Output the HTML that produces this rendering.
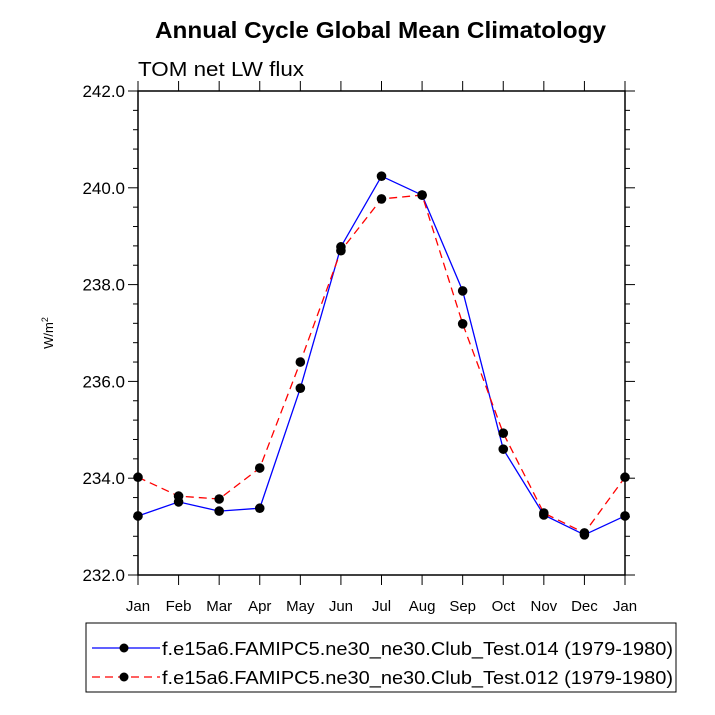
<!DOCTYPE html>
<html><head><meta charset="utf-8"><style>
html,body{margin:0;padding:0;background:#fff;}
svg{display:block;font-family:"Liberation Sans",sans-serif;}
</style></head><body>
<svg id="chart" width="715" height="715" viewBox="0 0 715 715">
<text x="155" y="38" textLength="451" lengthAdjust="spacingAndGlyphs" font-size="23" font-weight="bold">Annual Cycle Global Mean Climatology</text>
<text x="138" y="76" textLength="166" lengthAdjust="spacingAndGlyphs" font-size="20">TOM net LW flux</text>
<text transform="translate(53,333) rotate(-90)" text-anchor="middle" font-size="13">W/m<tspan font-size="9" dy="-5">2</tspan></text>
<g id="axes"></g>
<g id="series"></g>
<rect x="86" y="623" width="590" height="69" fill="none" stroke="#000" stroke-width="1"/>
<g>
<line x1="92" y1="648" x2="160" y2="648" stroke="#0000ff" stroke-width="1.3"/>
<circle cx="124" cy="648" r="4.5" fill="#000"/>
<text x="162" y="655" textLength="511" lengthAdjust="spacingAndGlyphs" font-size="18">f.e15a6.FAMIPC5.ne30_ne30.Club_Test.014 (1979-1980)</text>
</g>
<g>
<line x1="92" y1="677" x2="160" y2="677" stroke="#ff0000" stroke-width="1.3" stroke-dasharray="8,5"/>
<circle cx="124" cy="677" r="4.5" fill="#000"/>
<text x="162" y="684" textLength="511" lengthAdjust="spacingAndGlyphs" font-size="18">f.e15a6.FAMIPC5.ne30_ne30.Club_Test.012 (1979-1980)</text>
</g>
</svg>
<script>
const months = ["Jan","Feb","Mar","Apr","May","Jun","Jul","Aug","Sep","Oct","Nov","Dec","Jan"];
const test014 = [233.22,233.51,233.32,233.38,235.86,238.78,240.24,239.85,237.87,234.60,233.24,232.83,233.22];
const test012 = [234.02,233.63,233.57,234.21,236.40,238.70,239.77,239.85,237.19,234.93,233.28,232.87,234.02];
const yTicks = [232,234,236,238,240,242];
const yTickLabels = ["232.0","234.0","236.0","238.0","240.0","242.0"];

const L=138,R=625,T=91,B=575,yMin=232,yMax=242;
const xs=i=>L+(R-L)*i/(months.length-1);
const ys=v=>B-(v-yMin)/(yMax-yMin)*(B-T);
const NS="http://www.w3.org/2000/svg";
function mk(tag,attrs,parent){const e=document.createElementNS(NS,tag);for(const k in attrs)e.setAttribute(k,attrs[k]);parent.appendChild(e);return e;}
const axes=document.getElementById('axes');
const frame=mk('rect',{x:L,y:T,width:R-L,height:B-T,fill:'none',stroke:'#000','stroke-width':1.5},axes);


for(let v=yMin;v<=yMax+1e-6;v+=0.4){
  const y=ys(v);const major=Math.abs(Math.round(v)-v)<1e-6&&Math.round(v)%2===0;
  const len=major?10:5;
  mk('line',{x1:L-len,y1:y,x2:L,y2:y,stroke:'#000','stroke-width':1},axes);
  mk('line',{x1:R,y1:y,x2:R+len,y2:y,stroke:'#000','stroke-width':1},axes);
}
yTicks.forEach((v,i)=>{
  const t=mk('text',{x:L-13,y:ys(v)+6,'text-anchor':'end','font-size':17},axes);
  t.textContent=yTickLabels[i];
  
  
});
months.forEach((m,i)=>{
  const x=xs(i);
  mk('line',{x1:x,y1:B,x2:x,y2:B+10,stroke:'#000','stroke-width':1},axes);
  mk('line',{x1:x,y1:T-10,x2:x,y2:T,stroke:'#000','stroke-width':1},axes);
  const t=mk('text',{x:x,y:B+36,'text-anchor':'middle','font-size':15},axes);
  t.textContent=m;
  
  
});
const ser=document.getElementById('series');
function draw(vals,color,dash,name){
  const g=mk('g',{},ser);
  
  
  const pts=vals.map((v,i)=>xs(i)+','+ys(v)).join(' ');
  const a={points:pts,fill:'none',stroke:color,'stroke-width':1.3};
  if(dash)a['stroke-dasharray']=dash;
  mk('polyline',a,g);
  vals.forEach((v,i)=>{
    const c=mk('circle',{cx:xs(i),cy:ys(v),r:4.8,fill:'#000'},g);
    
    
  });
}
draw(test014,'#0000ff',null,'series-test014');
draw(test012,'#ff0000','8,5','series-test012');
</script>
</body></html>
